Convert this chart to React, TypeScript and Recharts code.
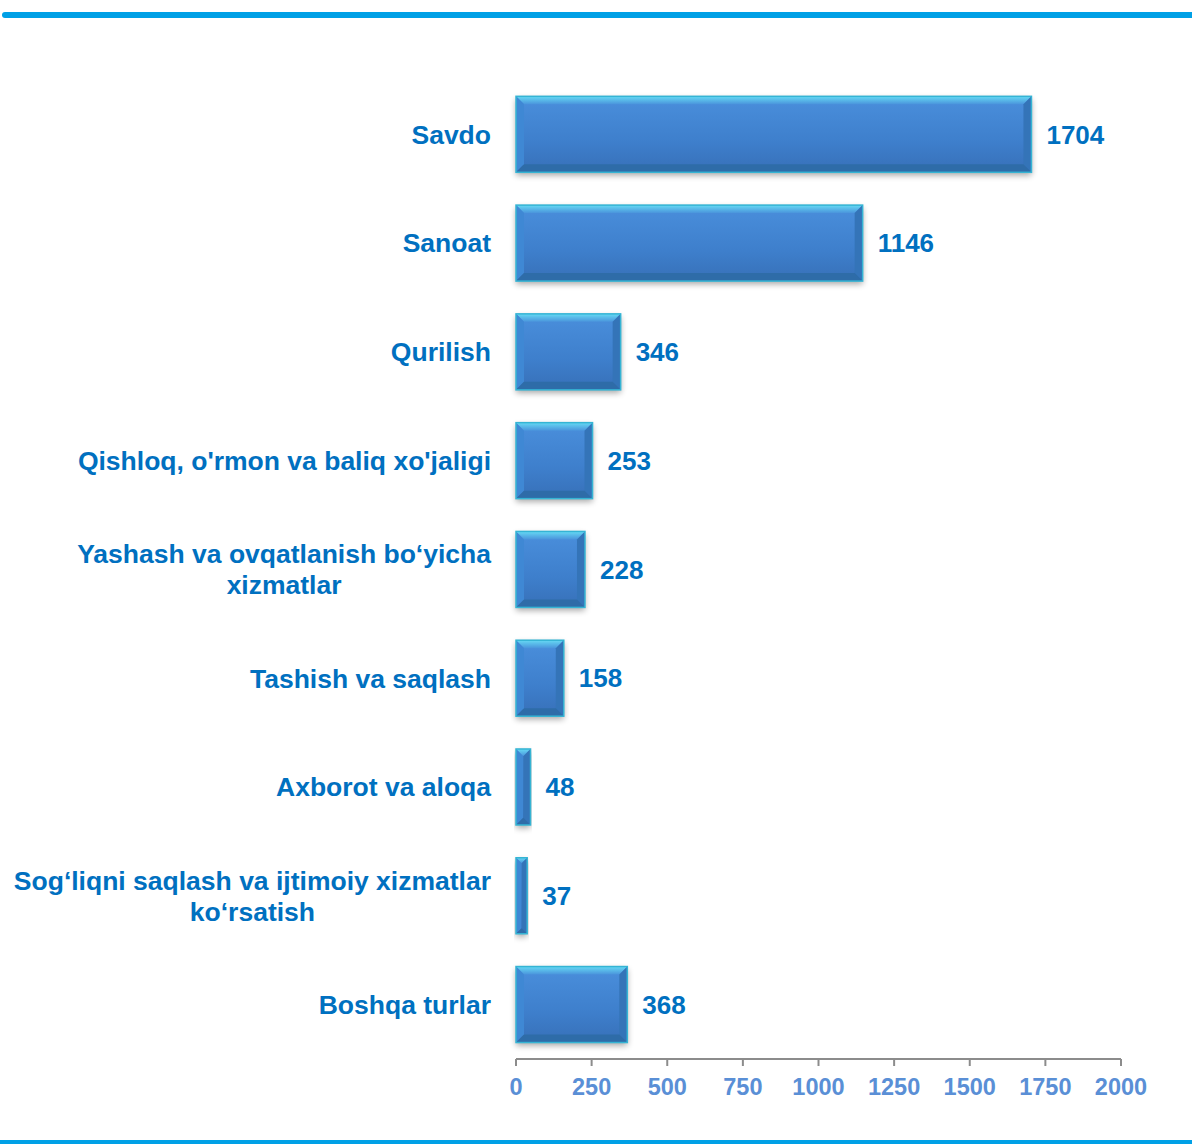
import React from "react";
import { BarChart, Bar, XAxis, YAxis, LabelList } from "recharts";

const categories = [
  "Savdo",
  "Sanoat",
  "Qurilish",
  "Qishloq, o'rmon va baliq xo'jaligi",
  "Yashash va ovqatlanish bo‘yicha|xizmatlar",
  "Tashish va saqlash",
  "Axborot va aloqa",
  "Sog‘liqni saqlash va ijtimoiy xizmatlar|ko‘rsatish",
  "Boshqa turlar",
];
const values = [1704, 1146, 346, 253, 228, 158, 48, 37, 368];
const xTicks = [0, 250, 500, 750, 1000, 1250, 1500, 1750, 2000];

const data = categories.map((name, i) => ({ name, value: values[i] }));

const FONT = "'Liberation Sans', Arial, sans-serif";
const CAT_FONT = `bold 26.5px ${FONT}`;

let ctx: CanvasRenderingContext2D | null = null;
const measure = (s: string) => {
  if (!ctx) ctx = document.createElement("canvas").getContext("2d");
  if (!ctx) return s.length * 13;
  ctx.font = CAT_FONT;
  return ctx.measureText(s).width;
};

// category label: lines centred on each other, block right-aligned
const CategoryTick = (props: any) => {
  const { x, y, payload } = props;
  const lines = String(payload.value).split("|");
  if (lines.length === 1) {
    return (
      <text x={x} y={y} dy="0.35em" textAnchor="end" fill="#0070c0"
        style={{ font: CAT_FONT }}>
        {lines[0]}
      </text>
    );
  }
  const w = Math.max(...lines.map(measure));
  const cx = x - w / 2;
  const lh = 31;
  const top = y - ((lines.length - 1) * lh) / 2;
  return (
    <text textAnchor="middle" fill="#0070c0" style={{ font: CAT_FONT }}>
      {lines.map((l, i) => (
        <tspan key={i} x={cx} y={top + i * lh} dy="0.35em">{l}</tspan>
      ))}
    </text>
  );
};

// bevelled bar like the office "3D" style
const BevelBar = (props: any) => {
  const { x, y, width: w, height: h } = props;
  if (!w || w <= 0) return null;
  const b = Math.min(8, w / 2, h / 2);
  return (
    <g>
      <rect x={x} y={y + 3} width={w} height={h} fill="#000" opacity={0.35} filter="url(#barShadow)" />
      <rect x={x} y={y} width={w} height={h} fill="url(#barBody)" />
      <polygon points={`${x},${y} ${x + w},${y} ${x + w - b},${y + b} ${x + b},${y + b}`} fill="url(#barTop)" />
      <polygon points={`${x},${y} ${x + b},${y + b} ${x + b},${y + h - b} ${x},${y + h}`} fill="#3f88d4" />
      <polygon points={`${x + w},${y} ${x + w},${y + h} ${x + w - b},${y + h - b} ${x + w - b},${y + b}`} fill="#3474b8" />
      <polygon points={`${x},${y + h} ${x + b},${y + h - b} ${x + w - b},${y + h - b} ${x + w},${y + h}`} fill="#2e6ca8" />
      <rect x={x} y={y} width={w} height={h} fill="none" stroke="#35b4d4" strokeWidth={1.5} />
    </g>
  );
};

const App: React.FC = () => {
  return (
    <div style={{ position: "absolute", left: 0, top: 0, width: 1192, height: 1144, background: "#fff" }}>
      <div style={{ position: "absolute", left: 2, top: 12, width: 1190, height: 6, background: "#00a0e6", borderRadius: "3px 0 0 3px" }} />
      <div style={{ position: "absolute", left: 0, top: 1140, width: 1192, height: 4, background: "#00a0e6" }} />
      <BarChart
        width={1192}
        height={1144}
        data={data}
        layout="vertical"
        barCategoryGap="15%"
        margin={{ top: 80, right: 71, left: 0, bottom: 45 }}
        style={{ position: "absolute", left: 0, top: 0 }}
      >
        <defs>
          <linearGradient id="barBody" x1="0" y1="0" x2="0" y2="1">
            <stop offset="0%" stopColor="#4a8fdc" />
            <stop offset="60%" stopColor="#3e7fcc" />
            <stop offset="100%" stopColor="#3770b8" />
          </linearGradient>
          <linearGradient id="barTop" x1="0" y1="0" x2="0" y2="1">
            <stop offset="0%" stopColor="#66daf4" />
            <stop offset="100%" stopColor="#4a94dc" />
          </linearGradient>
          <filter id="barShadow" x="-10%" y="-10%" width="120%" height="130%">
            <feGaussianBlur stdDeviation="3" />
          </filter>
        </defs>
        <XAxis
          type="number"
          domain={[0, 2000]}
          ticks={xTicks}
          height={40}
          stroke="#8c8c8c"
          strokeWidth={2}
          tickSize={7}
          tickMargin={12}
          tick={{ fill: "#5a8fd6", fontSize: 23.5, fontWeight: "bold", fontFamily: FONT }}
          interval={0}
        />
        <YAxis
          type="category"
          dataKey="name"
          width={516}
          axisLine={false}
          tickLine={false}
          tickSize={0}
          tickMargin={25}
          tick={<CategoryTick />}
          interval={0}
        />
        <Bar dataKey="value" shape={<BevelBar />} isAnimationActive={false}>
          <LabelList
            dataKey="value"
            position="right"
            offset={15}
            fill="#0070c0"
            style={{ font: `bold 26px ${FONT}` }}
          />
        </Bar>
      </BarChart>
    </div>
  );
};

export default App;
